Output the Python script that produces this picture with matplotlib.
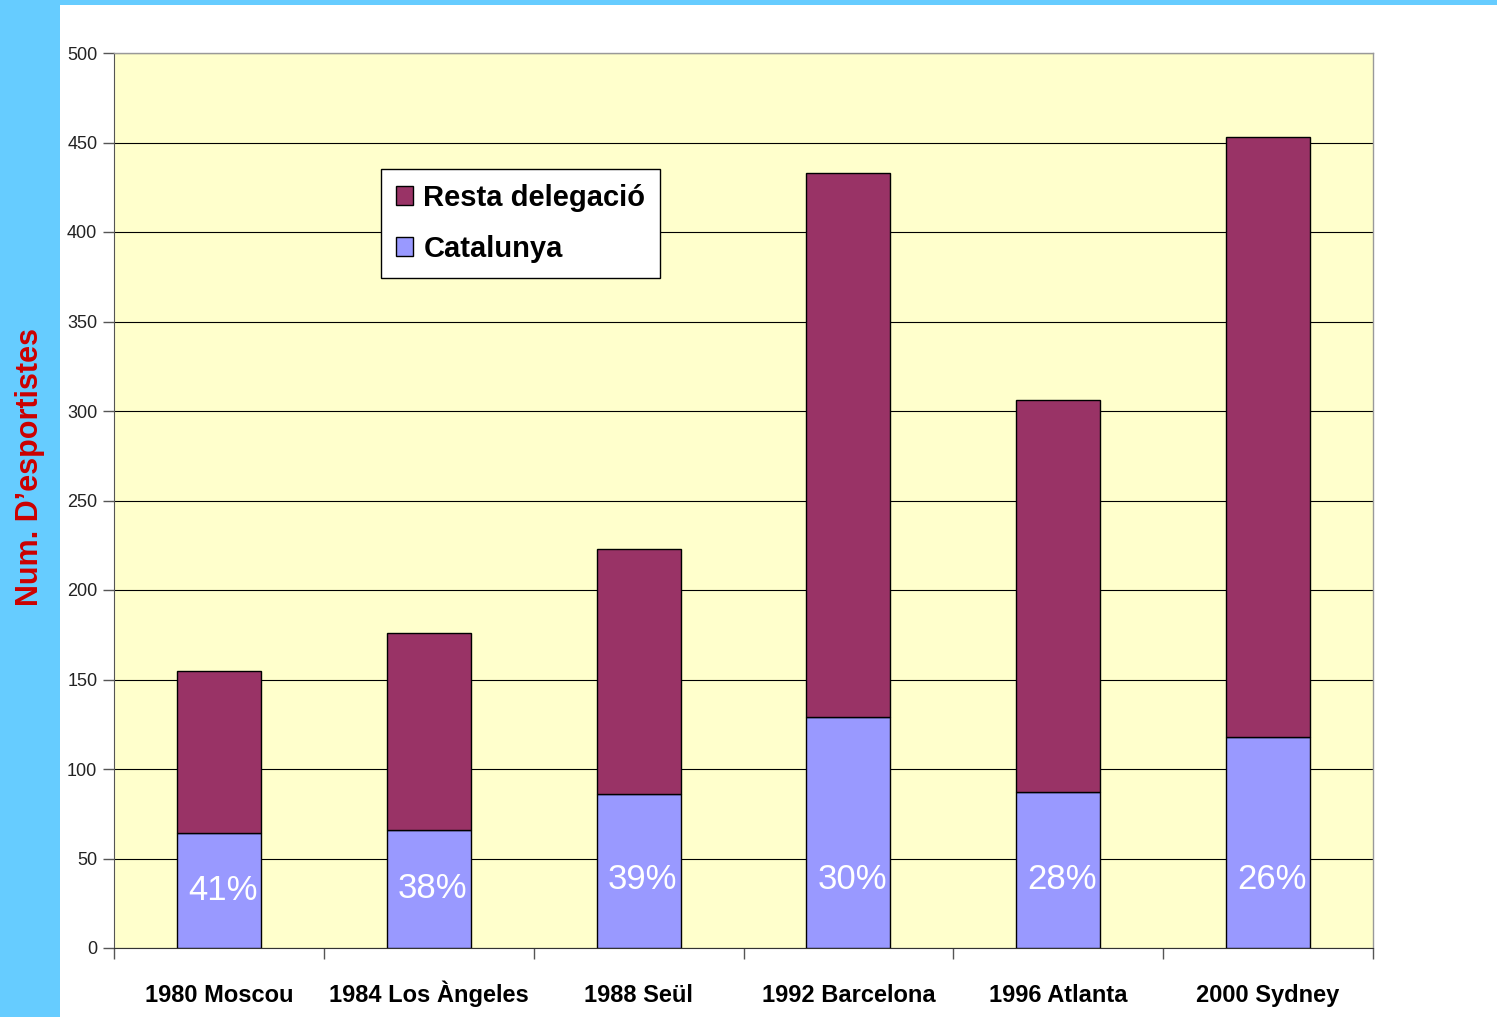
import numpy as np
import matplotlib.pyplot as plt
from matplotlib.patches import Rectangle, Patch

plt.rcParams['font.family'] = ['Liberation Sans', 'DejaVu Sans']

games = ['1980 Moscou', '1984 Los Àngeles', '1988 Seül', '1992 Barcelona',
         '1996 Atlanta', '2000 Sydney']
catalunya = [64, 66, 86, 129, 87, 118]
resta = [91, 110, 137, 304, 219, 335]
pct_labels = ['41%', '38%', '39%', '30%', '28%', '26%']

fig = plt.figure(figsize=(14.97, 10.17), dpi=100, facecolor='#66CCFF')
# white slide area
fig.patches.append(Rectangle((60 / 1497, 0), 1, (1017 - 5) / 1017,
                             transform=fig.transFigure, facecolor='white',
                             edgecolor='none', zorder=-5))

ax = fig.add_axes([114 / 1497, 69 / 1017, 1259 / 1497, 895 / 1017])
ax.set_zorder(2)
ax.set_facecolor('#FFFFCC')

x = np.arange(len(games))
w = 0.4
ax.bar(x, catalunya, w, color='#9999FF', edgecolor='black', linewidth=1, zorder=3)
ax.bar(x, resta, w, bottom=catalunya, color='#993366', edgecolor='black',
       linewidth=1, zorder=3)

for xi, c, lab in zip(x, catalunya, pct_labels):
    ax.text(xi + 0.02, min(c / 2, 38), lab, ha='center', va='center',
            color='white', fontsize=25, zorder=4)

ax.set_xlim(-0.5, len(games) - 0.5)
ax.set_ylim(0, 500)
ax.set_yticks(np.arange(0, 501, 50))
ax.yaxis.grid(True, color='black', linewidth=0.8, zorder=1)
ax.set_axisbelow(True)

ax.set_xticks(np.arange(-0.5, len(games), 1.0))
ax.set_xticklabels([])
ax.set_xticks(x, minor=True)
ax.set_xticklabels(games, minor=True, fontsize=17, fontweight='bold',
                   va='baseline')
ax.tick_params(axis='x', which='major', direction='out', length=8,
               color='#555555', width=1)
ax.tick_params(axis='x', which='minor', length=0, pad=39)
ax.tick_params(axis='y', direction='out', length=8, color='#555555', width=1,
               labelsize=13, labelcolor='#222222', pad=4)

for s in ['top', 'right']:
    ax.spines[s].set_color('#999999')
    ax.spines[s].set_linewidth(1)
ax.spines['left'].set_color('#555555')
ax.spines['bottom'].set_color('#333333')

fig.text(30 / 1497, 1 - 467 / 1017, 'Num. D\u2019esportistes', rotation=90,
         ha='center', va='center', color='#CC0000', fontsize=22,
         fontweight='bold')

handles = [Patch(facecolor='#993366', edgecolor='black', label='Resta delegació'),
           Patch(facecolor='#9999FF', edgecolor='black', label='Catalunya')]
leg = ax.legend(handles=handles, loc='upper left',
                bbox_to_anchor=((381 - 114) / 1259, (948 - 169) / 895),
                borderaxespad=0, fancybox=False, framealpha=1,
                edgecolor='black', handlelength=0.6, handleheight=0.6,
                handletextpad=0.35, labelspacing=0.8, borderpad=0.5,
                prop={'size': 21, 'weight': 'bold'})
leg.get_frame().set_linewidth(1)

fig.savefig('out.png', dpi=100, facecolor=fig.get_facecolor())
